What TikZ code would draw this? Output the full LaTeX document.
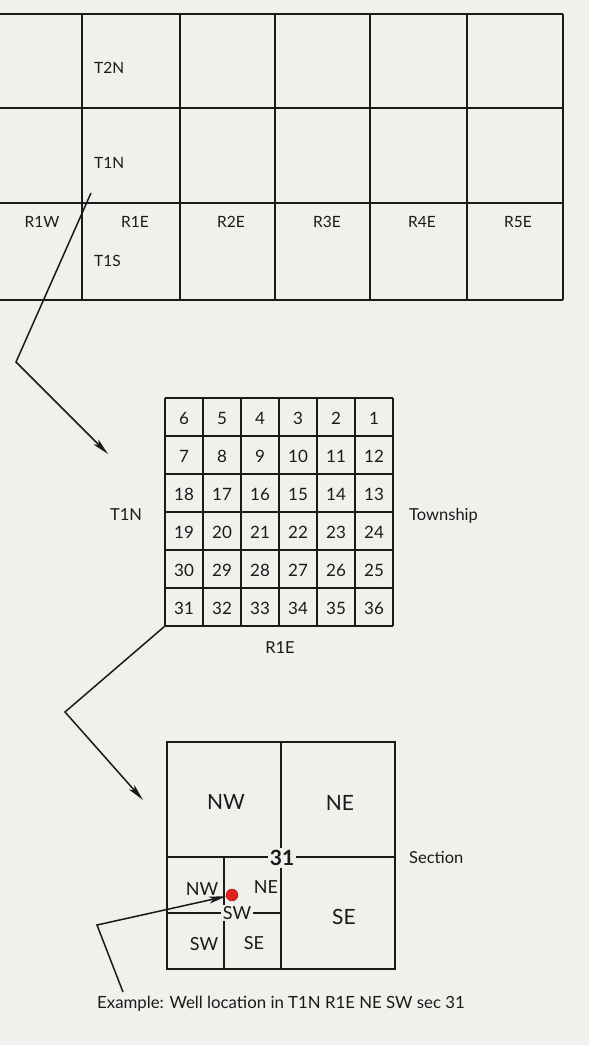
\documentclass[tikz,border=0pt]{standalone}
\usepackage{fontspec}
\setmainfont{Lato}
\usetikzlibrary{arrows.meta,calc,positioning}
\definecolor{ink}{HTML}{1A1A1A}
\definecolor{paper}{HTML}{F2F0ED}
\definecolor{wellred}{HTML}{E0201B}

\begin{document}
\begin{tikzpicture}[x=1pt,y=-1pt,>={Stealth[length=17pt,width=7pt,inset=4pt]},
  gridline/.style={draw=ink,line width=1.7pt},
  lbl/.style={text=ink,font=\fontsize{15.5}{18}\selectfont,inner sep=1pt},
  side/.style={text=ink,font=\fontsize{16.5}{19}\selectfont,inner sep=1pt},
  num/.style={text=ink,font=\fontsize{17}{19}\selectfont,inner sep=0pt},
  qtr/.style={text=ink,font=\fontsize{21}{23}\selectfont,inner sep=0pt},
  subqtr/.style={text=ink,font=\fontsize{18}{20}\selectfont,inner sep=0pt},
  pointer/.style={draw=ink,line width=1.5pt}]
  \fill[paper] (0,0) rectangle (589,1045);
  \useasboundingbox (0,0) rectangle (589,1045);

  % range and township grid
  \foreach \y in {14,108,203,300} \draw[gridline] (0,\y) -- (563,\y);
  \foreach \x in {82,180,275,370,467,563} \draw[gridline] (\x,14) -- (\x,300);
  \node[lbl,anchor=west] (t2n) at (93,68) {T2N};
  \node[lbl,anchor=west] (t1n) at (93,163) {T1N};
  \node[lbl,anchor=west] (t1s) at (93,261) {T1S};
  \node[lbl] (r1w) at (42,222) {R1W};
  \node[lbl] (r1e) at (135,222) {R1E};
  \node[lbl] (r2e) at (231,222) {R2E};
  \node[lbl] (r3e) at (327,222) {R3E};
  \node[lbl] (r4e) at (422,222) {R4E};
  \node[lbl] (r5e) at (518,222) {R5E};

  % township of 36 sections
  \foreach \i in {0,...,6} {
    \draw[gridline,line width=1.5pt] (165+38*\i,398) -- (165+38*\i,626);
    \draw[gridline,line width=1.5pt] (165,398+38*\i) -- (393,398+38*\i);
  }
  \foreach \r in {0,...,5}
    \foreach \c in {0,...,5} {
      \pgfmathtruncatemacro{\sec}{isodd(\r) ? 6*\r+\c+1 : 6*\r+6-\c}
      \node[num] (s\sec) at (184+38*\c,418+38*\r) {\sec};
    }
  \coordinate (twp sw) at (165,626);
  \node[side] (twp t1n) at (126,515) {T1N};
  \node[side,anchor=west] (twp name) at (408,516) {Township};
  \node[side] (twp r1e) at (280,648) {R1E};

  % section 31 in quarters
  \draw[gridline,line width=1.5pt] (167,742) rectangle (395,969);
  \draw[gridline,line width=1.5pt] (281,742) -- (281,969);
  \draw[gridline,line width=1.5pt] (167,857) -- (395,857);
  \draw[gridline,line width=1.5pt] (224,857) -- (224,969);
  \draw[gridline,line width=1.5pt] (167,913) -- (281,913);
  \node[text=ink,fill=paper,inner sep=2pt,font=\fontsize{21}{23}\selectfont\bfseries] (sec31) at (282,858) {31};
  \node[qtr] (nw) at (226,802) {NW};
  \node[qtr] (ne) at (340,803) {NE};
  \node[qtr] (se) at (344,917) {SE};
  \node[subqtr] (sw nw) at (202,889) {NW};
  \node[subqtr] (sw ne) at (266,887) {NE};
  \node[subqtr,fill=paper,inner sep=1.5pt] (sw sw) at (237,913) {SW};
  \node[subqtr] (sw sw2) at (204,944) {SW};
  \node[subqtr] (sw se) at (254,943) {SE};
  \node[side,anchor=west] (sec name) at (408,858) {Section};
  \node[circle,fill=wellred,draw=wellred!70!black,line width=0.4pt,minimum size=12pt,inner sep=0pt] (well) at (232,895) {};

  \node[side,anchor=west,font=\fontsize{16.8}{19}\selectfont] (cap) at (96,1004) {Example: Well location in T1N R1E NE SW sec 31};

  % pointers
  \coordinate (p1 start) at (91,193);
  \coordinate (p1 bend) at (16,362);
  \coordinate (p1 end) at (108,454);
  \draw[pointer,->] (p1 start) -- (p1 bend) -- (p1 end);
  \coordinate (p2 bend) at (65,712);
  \coordinate (p2 end) at (143,800);
  \draw[pointer,->] (twp sw) -- (p2 bend) -- (p2 end);
  \coordinate (p3 start) at (123,992);
  \coordinate (p3 bend) at (97,925);
  \draw[pointer,->] (p3 start) -- (p3 bend) -- (well);
\end{tikzpicture}
\end{document}
